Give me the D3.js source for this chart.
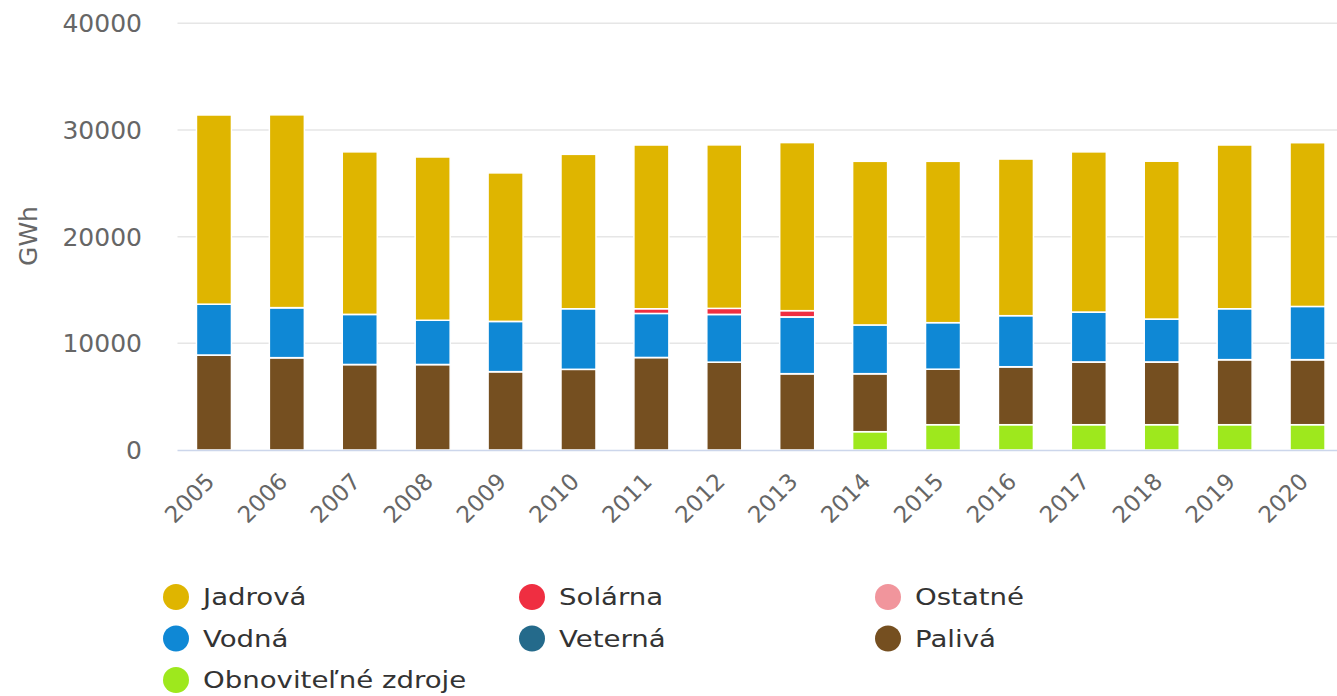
<!DOCTYPE html>
<html>
<head>
<meta charset="utf-8">
<title>Výroba elektriny</title>
<script src="https://cdn.jsdelivr.net/npm/d3@7/dist/d3.min.js"></script>
<style>
  body { margin: 0; background: #fff; }
  svg text { font-family: "DejaVu Sans", Verdana, sans-serif; }
</style>
</head>
<body>
<svg id="chart" width="1337" height="696"></svg>
<script>
// data (GWh)
var years = ['2005', '2006', '2007', '2008', '2009', '2010', '2011', '2012',
             '2013', '2014', '2015', '2016', '2017', '2018', '2019', '2020'];
var jadrova = [17735, 18070, 15230, 15305, 13915, 14475, 15350, 15325, 15755, 15340, 15125, 14685, 15015, 14795, 15350, 15350];
var solarna = [0, 0, 0, 0, 0, 0, 440, 560, 580, 0, 0, 0, 0, 0, 0, 0];
var ostatne = [0, 10, 10, 0, 10, 0, 0, 10, 10, 0, 0, 0, 10, 10, 0, 0];
var vodna = [4765, 4680, 4690, 4145, 4705, 5675, 4125, 4470, 5315, 4565, 4360, 4785, 4665, 4010, 4770, 4985];
var veterna = [5, 7, 8, 7, 6, 6, 5, 6, 6, 6, 6, 6, 6, 6, 6, 6];
var paliva = [8900, 8650, 8010, 8010, 7340, 7560, 8670, 8230, 7150, 5435, 5200, 5430, 5880, 5880, 6095, 6095];
var obnovitelne = [0, 0, 0, 0, 0, 0, 0, 0, 0, 1715, 2370, 2370, 2370, 2370, 2370, 2370];
var yTicks = [0, 10000, 20000, 30000, 40000];

// series, legend order (top of the stack first)
var series = [
  {key: 'jadrova', name: 'Jadrová', color: '#dfb500', values: jadrova},
  {key: 'solarna', name: 'Solárna', color: '#ef2e41', values: solarna},
  {key: 'ostatne', name: 'Ostatné', color: '#f1959c', values: ostatne},
  {key: 'vodna', name: 'Vodná', color: '#0f88d5', values: vodna},
  {key: 'veterna', name: 'Veterná', color: '#246a8b', values: veterna},
  {key: 'paliva', name: 'Palivá', color: '#754f20', values: paliva},
  {key: 'obnovitelne', name: 'Obnoviteľné zdroje', color: '#9ee81d', values: obnovitelne}
];

var rows = years.map(function (y, i) {
  var r = {year: y};
  series.forEach(function (s) { r[s.key] = s.values[i]; });
  return r;
});

var svg = d3.select('#chart');
var plotLeft = 177.5, plotRight = 1344, plotTop = 23.3, plotBottom = 450;

var x = d3.scaleBand()
  .domain(years)
  .range([plotLeft, plotRight])
  .paddingInner(0.52)
  .paddingOuter(0.26);

var y = d3.scaleLinear()
  .domain([0, 40000])
  .range([plotBottom, plotTop]);

// grid lines
svg.append('g')
  .selectAll('line')
  .data(yTicks.slice(1))
  .enter().append('line')
  .attr('x1', plotLeft).attr('x2', 1337)
  .attr('y1', d => y(d)).attr('y2', d => y(d))
  .attr('stroke', '#e6e6e6')
  .attr('stroke-width', 1.5);

// y axis labels
svg.append('g')
  .selectAll('text')
  .data(yTicks)
  .enter().append('text')
  .attr('x', 142)
  .attr('y', d => y(d) + 9)
  .attr('text-anchor', 'end')
  .attr('fill', '#666')
  .style('font-size', '25px')
  .text(d => d);

svg.append('text')
  .attr('transform', 'translate(37,236) rotate(-90)')
  .attr('text-anchor', 'middle')
  .attr('fill', '#666')
  .style('font-size', '25px')
  .text('GWh');

// stacked bars
var stack = d3.stack().keys(series.map(s => s.key).reverse());
var layers = stack(rows);
var color = d3.scaleOrdinal(series.map(s => s.key), series.map(s => s.color));

svg.append('g')
  .selectAll('g')
  .data(layers)
  .enter().append('g')
  .attr('fill', d => color(d.key))
  .selectAll('rect')
  .data(d => d)
  .enter().append('rect')
  .attr('x', d => x(d.data.year))
  .attr('width', x.bandwidth())
  .attr('y', d => y(d[1]))
  .attr('height', d => Math.max(0, y(d[0]) - y(d[1])))
  .attr('stroke', '#fff')
  .attr('stroke-width', 1.5);

// x axis line
svg.append('line')
  .attr('x1', plotLeft).attr('x2', 1337)
  .attr('y1', plotBottom + 0.5).attr('y2', plotBottom + 0.5)
  .attr('stroke', '#ccd6eb')
  .attr('stroke-width', 1.5);

// x labels, rotated
svg.append('g')
  .selectAll('text')
  .data(years)
  .enter().append('text')
  .attr('transform', d => 'translate(' + (x(d) + x.bandwidth() / 2 + 2) + ',483) rotate(-45)')
  .attr('text-anchor', 'end')
  .attr('fill', '#666')
  .style('font-size', '23px')
  .text(d => d);

// legend: 3 columns, filled row by row
var legend = svg.append('g')
  .selectAll('g')
  .data(series)
  .enter().append('g')
  .attr('transform', (d, i) => 'translate(' + (176 + (i % 3) * 356) + ',' + (597 + Math.floor(i / 3) * 41.5) + ')');

legend.append('circle')
  .attr('r', 13)
  .attr('fill', d => d.color);

legend.append('text')
  .attr('transform', 'translate(27,8) scale(1.2,1)')
  .attr('fill', '#333')
  .style('font-size', '23px')
  .text(d => d.name);
</script>
</body>
</html>
